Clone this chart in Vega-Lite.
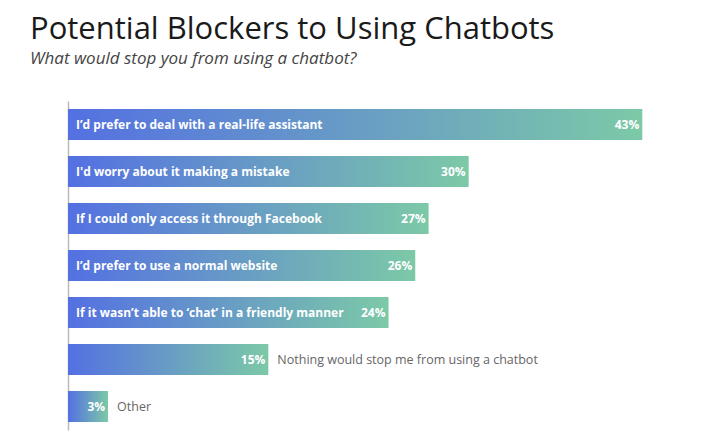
{
  "$schema": "https://vega.github.io/schema/vega-lite/v6.json",
  "autosize": "none",
  "width": 601,
  "height": 329,
  "padding": {"left": 68, "top": 101, "right": 44, "bottom": 13},
  "background": "white",
  "title": {
    "text": "Potential Blockers to Using Chatbots",
    "subtitle": "What would stop you from using a chatbot?",
    "anchor": "start",
    "frame": "group",
    "dx": -38,
    "offset": 33,
    "font": "Open Sans",
    "fontSize": 31,
    "fontWeight": "normal",
    "color": "#1a1a1a",
    "subtitleFont": "Open Sans",
    "subtitleFontSize": 17,
    "subtitleFontStyle": "italic",
    "subtitleColor": "#444444",
    "subtitlePadding": 5
  },
  "data": {
    "values": [
      {"category": "I’d prefer to deal with a real-life assistant", "value": 43},
      {"category": "I'd worry about it making a mistake", "value": 30},
      {"category": "If I could only access it through Facebook", "value": 27},
      {"category": "I’d prefer to use a normal website", "value": 26},
      {"category": "If it wasn’t able to ‘chat’ in a friendly manner", "value": 24},
      {"category": "Nothing would stop me from using a chatbot", "value": 15},
      {"category": "Other", "value": 3}
    ]
  },
  "transform": [{"calculate": "datum.value + '%'", "as": "label"}],
  "encoding": {
    "y": {
      "field": "category",
      "type": "nominal",
      "sort": null,
      "scale": {"paddingInner": 0.34, "paddingOuter": 0.17},
      "axis": {"title": null, "labels": false, "ticks": false, "domain": true, "domainColor": "#bbbbbb", "domainWidth": 1.5, "grid": false}
    }
  },
  "layer": [
    {
      "mark": {
        "type": "bar",
        "color": {
          "gradient": "linear",
          "x1": 0, "y1": 0, "x2": 1, "y2": 0,
          "stops": [
            {"offset": 0, "color": "#5470e2"},
            {"offset": 1, "color": "#7cc9a7"}
          ]
        }
      },
      "encoding": {
        "x": {"field": "value", "type": "quantitative", "scale": {"domain": [0, 45], "nice": false}, "axis": null}
      }
    },
    {
      "transform": [{"filter": "datum.value >= 20"}],
      "mark": {"type": "text", "align": "left", "baseline": "middle", "dx": 8, "font": "Open Sans", "fontSize": 12, "fontWeight": "bold", "color": "white"},
      "encoding": {
        "x": {"datum": 0, "type": "quantitative"},
        "text": {"field": "category"}
      }
    },
    {
      "mark": {"type": "text", "align": "right", "baseline": "middle", "dx": -3, "font": "Open Sans", "fontSize": 12, "fontWeight": "bold", "color": "white"},
      "encoding": {
        "x": {"field": "value", "type": "quantitative"},
        "text": {"field": "label"}
      }
    },
    {
      "transform": [{"filter": "datum.value < 20"}],
      "mark": {"type": "text", "align": "left", "baseline": "middle", "dx": 9, "font": "Open Sans", "fontSize": 12.5, "color": "#666666"},
      "encoding": {
        "x": {"field": "value", "type": "quantitative"},
        "text": {"field": "category"}
      }
    }
  ],
  "config": {"view": {"stroke": null}}
}
